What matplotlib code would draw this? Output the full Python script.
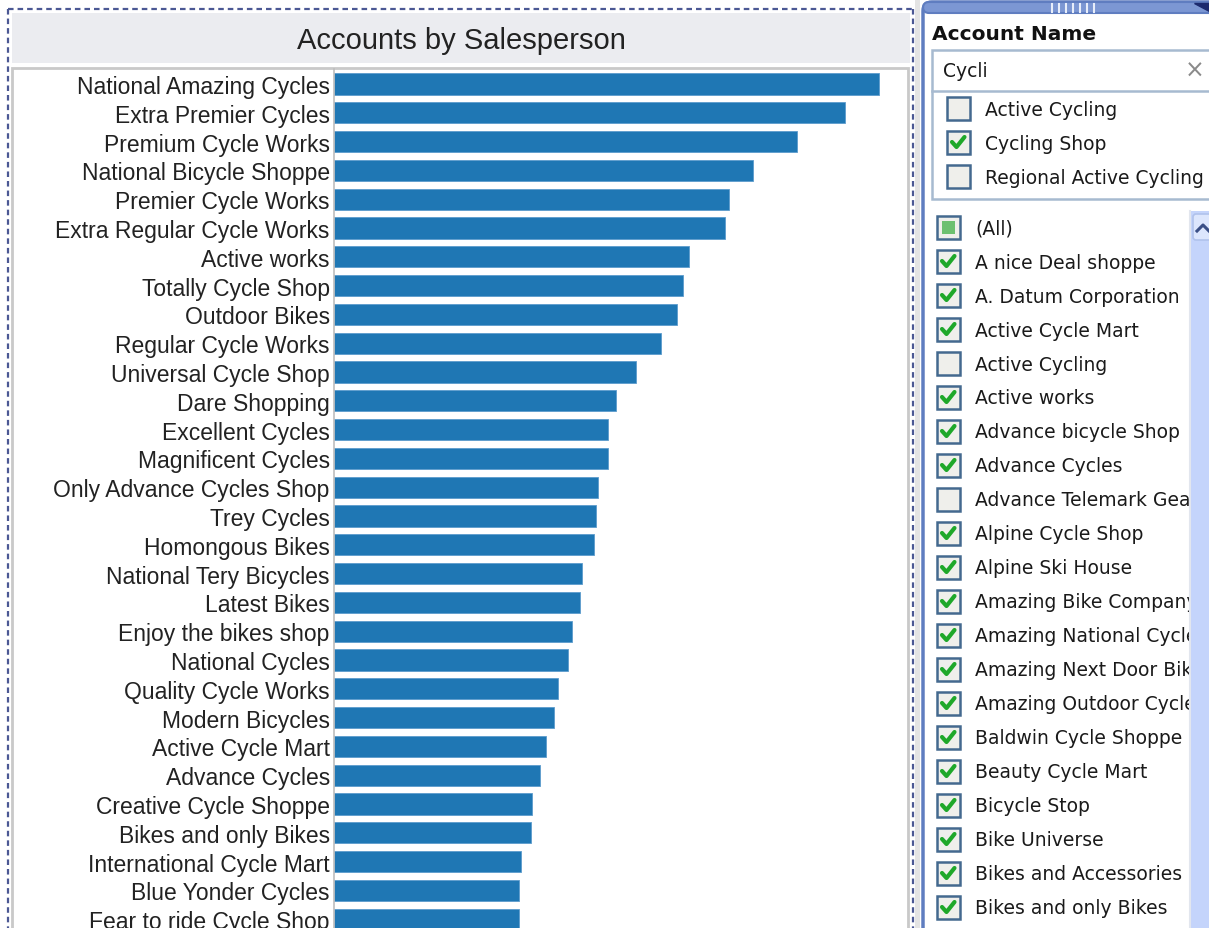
import matplotlib.pyplot as plt
from matplotlib.patches import Rectangle, FancyBboxPatch

# bar chart data (relative account counts)
accounts = ["National Amazing Cycles", "Extra Premier Cycles", "Premium Cycle Works",
            "National Bicycle Shoppe", "Premier Cycle Works", "Extra Regular Cycle Works",
            "Active works", "Totally Cycle Shop", "Outdoor Bikes", "Regular Cycle Works",
            "Universal Cycle Shop", "Dare Shopping", "Excellent Cycles", "Magnificent Cycles",
            "Only Advance Cycles Shop", "Trey Cycles", "Homongous Bikes", "National Tery Bicycles",
            "Latest Bikes", "Enjoy the bikes shop", "National Cycles", "Quality Cycle Works",
            "Modern Bicycles", "Active Cycle Mart", "Advance Cycles", "Creative Cycle Shoppe",
            "Bikes and only Bikes", "International Cycle Mart", "Blue Yonder Cycles",
            "Fear to ride Cycle Shop"]
counts = [545, 511, 463, 419, 395, 391, 355, 349, 343, 327,
          302, 282, 274, 274, 264, 262, 260, 248, 246, 238,
          234, 224, 220, 212, 206, 198, 197, 187, 185, 185]

# filter card data
filter_title = "Account Name"
search_text = "Cycli"
search_hits = ["Active Cycling", "Cycling Shop", "Regional Active Cycling"]
search_checked = [False, True, False]
list_items = ["A nice Deal shoppe", "A. Datum Corporation", "Active Cycle Mart",
              "Active Cycling", "Active works", "Advance bicycle Shop", "Advance Cycles",
              "Advance Telemark Gear", "Alpine Cycle Shop", "Alpine Ski House",
              "Amazing Bike Company", "Amazing National Cycles", "Amazing Next Door Bikes",
              "Amazing Outdoor Cycles", "Baldwin Cycle Shoppe", "Beauty Cycle Mart",
              "Bicycle Stop", "Bike Universe", "Bikes and Accessories", "Bikes and only Bikes"]
list_checked = [True, True, True, False, True, True, True, False, True, True,
                True, True, True, True, True, True, True, True, True, True]

W, H = 1209, 929
fig = plt.figure(figsize=(W / 100, H / 100), dpi=100)
fig.patch.set_facecolor("white")

# pixel-space layer for the dashboard frame and filter card
ui = fig.add_axes([0, 0, 1, 1])
ui.set_xlim(0, W)
ui.set_ylim(H, 0)
ui.axis("off")
ui.set_zorder(0)

# left worksheet frame
ui.add_patch(Rectangle((12, 14), 898, 50, facecolor="#ebecf0", edgecolor="none"))
ui.text(461, 41, "Accounts by Salesperson", ha="center", va="center",
        fontsize=21, family="Liberation Sans", color="#222222")
ui.add_patch(Rectangle((12, 69), 896, 880, facecolor="white", edgecolor="#c9c9c9", lw=2))
dash = dict(color="#4b5894", lw=1.6, linestyle=(0, (2.5, 1.8)))
ui.plot([8, 8], [10, H], **dash)
ui.plot([8, 913], [10, 10], **dash)
ui.plot([913, 913], [10, H], **dash)
ui.add_patch(Rectangle((915, 0), 5, H, facecolor="#e4e4e4", edgecolor="none"))

# filter card
ui.add_patch(FancyBboxPatch((923, 3), 300, 940, boxstyle="round,pad=0,rounding_size=9",
                            facecolor="white", edgecolor="#5f7dc0", lw=2.5))
ui.add_patch(FancyBboxPatch((923, 3), 300, 11, boxstyle="round,pad=0,rounding_size=6",
                            facecolor="#7c97d3", edgecolor="#5f7dc0", lw=1.5))
for gx in range(1052, 1096, 7):
    ui.plot([gx, gx], [5, 13], color="#e8eefa", lw=1.5)
ui.fill([1194, 1209, 1209], [4, 4, 12], color="#1c2a6e")
ui.text(932, 34, filter_title, ha="left", va="center", fontsize=14.5,
        fontweight="bold", family="DejaVu Sans", color="#111111")

# search box with matching values
ui.add_patch(Rectangle((932, 51), 290, 149, facecolor="white", edgecolor="#a7bad0", lw=1.8))
ui.plot([932, W], [92, 92], color="#a7bad0", lw=1.8)
ui.text(943, 71, search_text, ha="left", va="center", fontsize=13.5,
        family="DejaVu Sans", color="#1a1a1a")
ui.text(1195, 71, "×", ha="center", va="center", fontsize=17,
        family="DejaVu Sans", color="#8a8a8a")


def checkbox(x, yc, checked, partial=False):
    ui.add_patch(Rectangle((x, yc - 12), 23, 23, facecolor="#efefeb",
                           edgecolor="#44698f", lw=1.8))
    if partial:
        ui.add_patch(Rectangle((x + 5, yc - 7), 13, 13, facecolor="#6cc070", edgecolor="none"))
    elif checked:
        ui.plot([x + 5, x + 9.5, x + 17.5], [yc - 1, yc + 4, yc - 6], color="#1fa82a",
                lw=3, solid_capstyle="round", solid_joinstyle="round")


for i, (name, chk) in enumerate(zip(search_hits, search_checked)):
    yc = 110 + 34 * i
    checkbox(947, yc, chk)
    ui.text(985, yc, name, ha="left", va="center", fontsize=13.5,
            family="DejaVu Sans", color="#1a1a1a")

# value list (long names run under the scrollbar)
checkbox(937, 229, True, partial=True)
ui.text(975, 229, "(All)", ha="left", va="center", fontsize=13.5,
        family="DejaVu Sans", color="#1a1a1a")
for i, (name, chk) in enumerate(zip(list_items, list_checked)):
    yc = 263 + 34 * i
    checkbox(937, yc, chk)
    ui.text(975, yc, name, ha="left", va="center", fontsize=13.5,
            family="DejaVu Sans", color="#1a1a1a", zorder=2)

# scrollbar, drawn over the list text
ui.add_patch(Rectangle((1189, 210), 30, 725, facecolor="white", edgecolor="none", zorder=4))
ui.add_patch(Rectangle((1191, 212), 25, 720, facecolor="#c4d4fb", edgecolor="none", zorder=5))
ui.plot([1190, 1190], [212, H], color="#e2e6ee", lw=1.5, zorder=5)
ui.add_patch(FancyBboxPatch((1193, 215), 22, 26, boxstyle="round,pad=0,rounding_size=3",
                            facecolor="#dce6fd", edgecolor="#b0c2ec", lw=1.2, zorder=6))
ui.plot([1197, 1203, 1209], [232, 226, 232], color="#3a4f86", lw=2.2, zorder=7)

# bar chart
ax = fig.add_axes([334 / W, 0, 576 / W, (H - 70) / H])
ax.set_zorder(1)
ax.patch.set_visible(False)
rows = list(range(len(accounts)))
ax.barh(rows, counts, height=0.73, color="#1f77b4", edgecolor="#5c9ccc", lw=0.6)
ax.set_xlim(0, 576)
ax.set_ylim((H - 85) / 28.8, -15 / 28.8)
ax.set_yticks(rows)
ax.set_yticklabels(accounts, family="Liberation Sans", fontsize=16.5, color="#222222")
ax.tick_params(axis="y", length=0, pad=3)
ax.set_xticks([])
for s in ["top", "right", "bottom"]:
    ax.spines[s].set_visible(False)
ax.spines["left"].set_color("#bdbdbd")
ax.spines["left"].set_linewidth(1.2)

fig.savefig("out.png", dpi=100)
